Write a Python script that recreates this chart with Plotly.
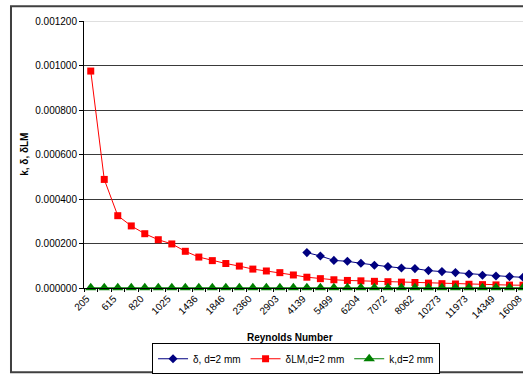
import plotly.graph_objects as go

reynolds = ["205", "410", "615", "717", "820", "922", "1025", "1230", "1436", "1641",
            "1846", "2052", "2360", "2600", "2903", "3425", "4139", "4700", "5499", "5850",
            "6204", "6650", "7072", "7570", "8062", "9170", "10273", "11120", "11973", "13160",
            "14349", "15180", "16008"]

tick_labels = ["205", "", "615", "", "820", "", "1025", "", "1436", "",
               "1846", "", "2360", "", "2903", "", "4139", "", "5499", "",
               "6204", "", "7072", "", "8062", "", "10273", "", "11973", "",
               "14349", "", "16008"]

delta = [None] * 16 + [0.000159, 0.000144, 0.000124, 0.000120, 0.000111, 0.000102,
                       0.0000961, 0.0000899, 0.0000871, 0.0000782, 0.0000737, 0.0000692,
                       0.0000629, 0.0000571, 0.0000539, 0.0000512, 0.0000480]

delta_lm = [0.000975, 0.000488, 0.000325, 0.000279, 0.000244, 0.000217, 0.000198,
            0.000165, 0.000139, 0.000123, 0.000110, 0.0000985, 0.0000850, 0.0000765,
            0.0000690, 0.0000585, 0.0000485, 0.0000420, 0.0000370, 0.0000340, 0.0000322,
            0.0000300, 0.0000283, 0.0000264, 0.0000248, 0.0000220, 0.0000195, 0.0000180,
            0.0000167, 0.0000152, 0.0000139, 0.0000131, 0.0000125]

k_vals = [0.000001] * 33

y_ticks = [0, 0.0002, 0.0004, 0.0006, 0.0008, 0.0010, 0.0012]

FONT = "Liberation Sans, Arial, sans-serif"

fig = go.Figure()
fig.add_trace(go.Scatter(x=reynolds, y=delta, name="δ, d=2 mm", mode="lines+markers",
                         line=dict(color="#000080", width=1),
                         marker=dict(symbol="diamond", size=7, color="#000080"),
                         cliponaxis=False, connectgaps=False))
fig.add_trace(go.Scatter(x=reynolds, y=delta_lm, name="δLM,d=2 mm", mode="lines+markers",
                         line=dict(color="#FF0000", width=1),
                         marker=dict(symbol="square", size=7, color="#FF0000"),
                         cliponaxis=False))
fig.add_trace(go.Scatter(x=reynolds, y=k_vals, name="k,d=2 mm", mode="lines+markers",
                         line=dict(color="#008000", width=1),
                         marker=dict(symbol="triangle-up", size=10, color="#008000"),
                         cliponaxis=False))

fig.update_layout(
    width=523, height=374,
    margin=dict(l=84, r=0, t=21, b=86, autoexpand=False),
    paper_bgcolor="white", plot_bgcolor="white",
    font=dict(family=FONT, size=10, color="black"),
    showlegend=True,
    legend=dict(orientation="h", x=0.483, y=-0.265, xanchor="center", yanchor="middle",
                bordercolor="black", borderwidth=1, itemwidth=30,
                font=dict(family=FONT, size=10, color="black"), tracegroupgap=0),
    xaxis=dict(type="category", categoryorder="array", categoryarray=reynolds,
               range=[-0.5, 32.0], tickmode="array", tickvals=reynolds, ticktext=tick_labels,
               tickangle=-45, tickson="boundaries", ticks="outside", ticklen=3,
               tickcolor="black", showgrid=False, showline=True, linecolor="black",
               linewidth=1, tickfont=dict(size=10), automargin=False, ticklabelshift=-4),
    yaxis=dict(range=[0, 0.0012], tickmode="array", tickvals=y_ticks, tickformat=".6f",
               ticks="outside", ticklen=4, tickcolor="black", showline=True,
               linecolor="black", linewidth=1, showgrid=True, gridcolor="#3a3a3a",
               gridwidth=1, zeroline=False, tickfont=dict(size=10), automargin=False),
    annotations=[
        dict(text="<b>k, δ, δLM</b>", xref="paper", yref="paper", x=-0.1344, y=0.5026,
             textangle=-90, showarrow=False, xanchor="center", yanchor="middle",
             font=dict(size=10)),
        dict(text="<b>Reynolds Number</b>", xref="paper", yref="paper", x=0.469, y=-0.1865,
             showarrow=False, xanchor="center", yanchor="middle", font=dict(size=10)),
    ],
    shapes=[
        dict(type="line", xref="paper", yref="y", x0=0, x1=1, y0=0.0012, y1=0.0012,
             line=dict(color="#c0c0c0", width=1), layer="above"),
        dict(type="rect", xref="paper", yref="paper", x0=-0.1663, x1=1.3, y0=-0.316, y1=1.055,
             line=dict(color="#404040", width=2), layer="below"),
    ],
)

fig.write_html("out.html", config={"displayModeBar": False},
               post_script="document.body.style.margin='0';document.body.style.overflow='hidden';")
